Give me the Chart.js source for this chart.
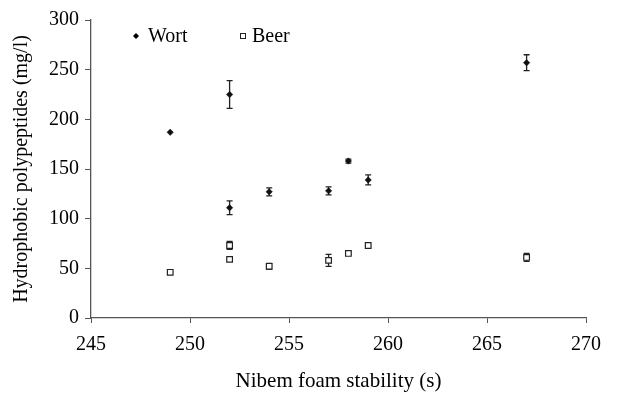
<!DOCTYPE html>
<html>
<head>
<meta charset="utf-8">
<script src="https://cdn.jsdelivr.net/npm/chart.js@4"></script>
<style>
  html, body { margin: 0; padding: 0; background: #fff; }
  #wrap { width: 617px; height: 394px; position: relative; }
</style>
</head>
<body>
<div id="wrap"><canvas id="chart" width="617" height="394"></canvas></div>
<script>
// data
const foamStability = [249, 252, 252, 254, 257, 258, 259, 267];
const wortValues = [187, 225, 111, 127, 128, 158, 139, 257];
const wortErrors = [0, 14, 7, 4, 4, 2, 5, 8];
const beerStability = [249, 252, 252, 254, 257, 258, 259, 267];
const beerValues = [46, 73, 59, 52, 58, 65, 73, 61];
const beerErrors = [0, 4, 0, 3, 6, 0, 0, 4];
const xTicks = [245, 250, 255, 260, 265, 270];
const yTicks = [0, 50, 100, 150, 200, 250, 300];

const FONT = "'Liberation Serif', 'DejaVu Serif', serif";
const AXIS = "#555";

const toPoints = (xs, ys) => xs.map((x, i) => ({ x: x, y: ys[i] }));

// vertical error bars, drawn through the chart scales
const errorBars = {
  id: "errorBars",
  beforeDatasetsDraw(chart) {
    const { ctx, scales } = chart;
    const errs = [wortErrors, beerErrors];
    ctx.save();
    ctx.strokeStyle = "#222";
    ctx.lineWidth = 1.3;
    chart.data.datasets.forEach((ds, di) => {
      ds.data.forEach((p, i) => {
        const e = errs[di][i];
        if (!e) return;
        const x = scales.x.getPixelForValue(p.x);
        const y1 = scales.y.getPixelForValue(p.y - e);
        const y2 = scales.y.getPixelForValue(p.y + e);
        ctx.beginPath();
        ctx.moveTo(x, y1); ctx.lineTo(x, y2);
        ctx.moveTo(x - 3, y1); ctx.lineTo(x + 3, y1);
        ctx.moveTo(x - 3, y2); ctx.lineTo(x + 3, y2);
        ctx.stroke();
      });
    });
    ctx.restore();
  }
};

// legend sits inside the plot, top left
const innerLegend = {
  id: "innerLegend",
  afterDraw(chart) {
    const { ctx } = chart;
    const y = 36;
    ctx.save();
    ctx.font = "20px " + FONT;
    ctx.fillStyle = "#000";
    ctx.textBaseline = "middle";
    ctx.beginPath();
    ctx.moveTo(136, y - 3); ctx.lineTo(139, y); ctx.lineTo(136, y + 3); ctx.lineTo(133, y);
    ctx.closePath();
    ctx.fill();
    ctx.fillText(chart.data.datasets[0].label, 148, y + 1);
    ctx.strokeStyle = "#222";
    ctx.lineWidth = 1;
    ctx.strokeRect(240.5, y - 2.5, 5, 5);
    ctx.fillText(chart.data.datasets[1].label, 252, y + 1);
    ctx.restore();
  }
};

new Chart(document.getElementById("chart"), {
  type: "scatter",
  data: {
    datasets: [
      {
        label: "Wort",
        data: toPoints(foamStability, wortValues),
        pointStyle: "rectRot",
        pointRadius: 3.2,
        backgroundColor: "#111",
        borderColor: "#111",
        borderWidth: 0.5,
      },
      {
        label: "Beer",
        data: toPoints(beerStability, beerValues),
        pointStyle: "rect",
        pointRadius: 4,
        backgroundColor: "#fff",
        borderColor: "#222",
        borderWidth: 1.2,
      },
    ],
  },
  plugins: [errorBars, innerLegend],
  options: {
    responsive: false,
    animation: false,
    layout: { padding: { top: 20, right: 31, left: 0, bottom: 0 } },
    plugins: { legend: { display: false }, tooltip: { enabled: false } },
    scales: {
      x: {
        type: "linear",
        min: 245,
        max: 270,
        afterBuildTicks: (axis) => { axis.ticks = xTicks.map((v) => ({ value: v })); },
        afterFit: (axis) => { axis.height = 76; },
        border: { color: AXIS, width: 1.3 },
        grid: { drawOnChartArea: false, drawTicks: true, tickLength: 5, color: AXIS },
        ticks: { color: "#000", font: { family: FONT, size: 20 }, padding: 10, maxRotation: 0 },
        title: {
          display: true,
          text: "Nibem foam stability (s)",
          color: "#000",
          font: { family: FONT, size: 21 },
          padding: { top: 0, bottom: 0 },
        },
      },
      y: {
        min: 0,
        max: 300,
        afterBuildTicks: (axis) => { axis.ticks = yTicks.map((v) => ({ value: v })); },
        afterFit: (axis) => { axis.width = 91; },
        border: { color: AXIS, width: 1.3 },
        grid: { drawOnChartArea: false, drawTicks: true, tickLength: 6, color: AXIS },
        ticks: { color: "#000", font: { family: FONT, size: 20 }, padding: 6 },
        title: {
          display: true,
          text: "Hydrophobic polypeptides (mg/l)",
          color: "#000",
          font: { family: FONT, size: 20 },
          padding: { top: 10, bottom: 0 },
        },
      },
    },
  },
});
</script>
</body>
</html>
